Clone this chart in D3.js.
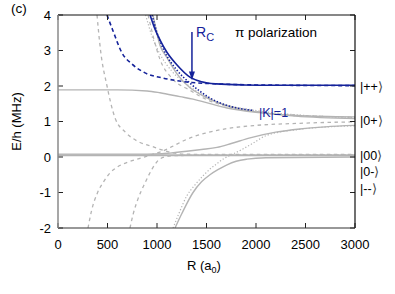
<!DOCTYPE html>
<html lang="en">
<head>
<meta charset="utf-8">
<title>pi polarization</title>
<script src="https://d3js.org/d3.v7.min.js"></script>
<style>
  body { margin: 0; background: #fff; }
  text { font-family: "Liberation Sans", Arial, sans-serif; }
</style>
</head>
<body>
<svg id="chart" width="395" height="294"></svg>
<script>
// ---- data, each curve as [R, E] pairs ----
var xTicks = [0, 500, 1000, 1500, 2000, 2500, 3000];
var yTicks = [-2, -1, 0, 1, 2, 3, 4];

// dark blue curves
var blueSolid  = [[930,4.0],[980,3.6],[1030,3.3],[1100,2.95],[1200,2.6],[1333,2.25],[1450,2.12],[1600,2.06],[1870,2.03],[2200,2.02],[3000,2.02]];
var blueDashed = [[495,4.0],[556,3.55],[647,2.93],[747,2.62],[879,2.37],[1050,2.23],[1200,2.15],[1350,2.1],[1600,2.06],[2000,2.03],[3000,2.01]];
var blueDotted = [[950,4.0],[1000,3.5],[1080,2.95],[1200,2.45],[1333,2.08],[1435,1.85],[1535,1.66],[1700,1.46],[1808,1.38],[1980,1.31]];

// gray curves
var graySolidTop   = [[960,4.0],[1030,3.15],[1100,2.8],[1200,2.35],[1333,1.95],[1434,1.77],[1535,1.62],[1700,1.45],[2000,1.27],[2400,1.15],[3000,1.08]];
var grayDottedTop  = [[885,4.0],[950,3.4],[1030,2.9],[1150,2.42],[1300,2.05],[1434,1.8],[1600,1.56],[2000,1.31],[2400,1.19],[3000,1.11]];
var grayDashedTop  = [[910,4.0],[1030,2.75],[1150,2.22],[1333,1.88],[1500,1.62],[1700,1.43],[2000,1.28],[2400,1.18],[3000,1.12]];
var graySolidFlat2 = [[0,1.89],[600,1.89],[900,1.86],[1030,1.81],[1232,1.7],[1364,1.63],[1500,1.53],[1707,1.38],[2040,1.25],[2400,1.17],[3000,1.13]];
var graySolidFlat0 = [[0,0.08],[900,0.08],[1050,0.09],[1131,0.11],[1300,0.16],[1450,0.21],[1606,0.27],[1750,0.38],[1940,0.54],[2200,0.7],[2444,0.79],[2700,0.85],[3000,0.89]];
var graySolidZero  = [[0,0.05],[1000,0.05],[2000,0.05],[3000,0.05]];
var graySolidLow   = [[1182,-2],[1250,-1.6],[1364,-1.0],[1450,-0.7],[1535,-0.5],[1620,-0.35],[1707,-0.22],[1800,-0.12],[1909,-0.06],[2100,-0.02],[3000,0.0]];
var grayDottedLow  = [[1162,-2],[1220,-1.6],[1300,-1.1],[1380,-0.8],[1465,-0.53],[1535,-0.34],[1600,-0.2],[1666,-0.06],[1750,0.06],[1850,0.2],[1970,0.39],[2100,0.6],[2444,0.78],[3000,0.88]];
var grayDashedA    = [[394,4.0],[430,3.0],[495,2.0],[576,1.1],[680,0.7],[800,0.45],[950,0.3],[1050,0.2],[1150,0.12],[1300,0.08],[1600,0.07],[3000,0.07]];
var grayDashedB    = [[303,-2],[340,-1.5],[400,-1.0],[460,-0.7],[525,-0.45],[600,-0.28],[700,-0.15],[850,-0.02],[950,0.07],[1050,0.16],[1150,0.29],[1263,0.45],[1364,0.57],[1500,0.68],[1707,0.8],[2000,0.89],[2444,0.95],[3000,0.99]];
var grayDashedC    = [[727,-2],[760,-1.6],[808,-1.18],[879,-0.73],[950,-0.34],[1010,-0.1],[1080,0.0],[1200,0.04],[1500,0.05],[3000,0.06]];

var stateLabels = ["++", "0+", "00", "0-", "--"];
var stateLabelY = [91, 125, 160, 176, 193];

// ---- layout ----
var svg = d3.select("#chart");
var mLeft = 58, mRight = 355, mTop = 15, mBottom = 228;

var x = d3.scaleLinear().domain([0, 3000]).range([mLeft, mRight]);
var y = d3.scaleLinear().domain([-2, 4]).range([mBottom, mTop]);

var gray = "#b4b4b4", blue = "#14229a";

svg.append("clipPath").attr("id", "clip")
  .append("rect").attr("x", mLeft).attr("y", mTop)
  .attr("width", mRight - mLeft).attr("height", mBottom - mTop);

var line = d3.line()
  .x(function (d) { return x(d[0]); })
  .y(function (d) { return y(d[1]); })
  .curve(d3.curveMonotoneX);

var plot = svg.append("g").attr("clip-path", "url(#clip)");

function draw(data, color, width, dash) {
  plot.append("path")
    .datum(data)
    .attr("d", line)
    .attr("fill", "none")
    .attr("stroke", color)
    .attr("stroke-width", width)
    .attr("stroke-dasharray", dash);
}

// gray first, blue on top
draw(graySolidZero, gray, 1.8, null);
draw(graySolidFlat0, gray, 1.4, null);
draw(graySolidFlat2, gray, 1.4, null);
draw(graySolidLow, gray, 1.4, null);
draw(grayDottedLow, gray, 1.2, "1.2,2");
draw(grayDashedA, gray, 1.3, "3.5,3.5");
draw(grayDashedB, gray, 1.3, "3.5,3.5");
draw(grayDashedC, gray, 1.3, "3.5,3.5");
draw(grayDashedTop, gray, 1.2, "3.5,3.5");
draw(grayDottedTop, gray, 1.2, "1.2,2");
draw(graySolidTop, gray, 1.4, null);

draw(blueDashed, blue, 1.6, "4,3");
draw(blueDotted, blue, 1.6, "1.4,1.8");
draw(blueSolid, blue, 1.6, null);

// ---- frame and ticks ----
var tl = 5;
var axes = svg.append("g");
xTicks.forEach(function (t) {
  axes.append("line").attr("x1", x(t)).attr("x2", x(t)).attr("y1", mBottom).attr("y2", mBottom - tl)
    .attr("stroke", "#222").attr("stroke-width", 1);
  axes.append("line").attr("x1", x(t)).attr("x2", x(t)).attr("y1", mTop).attr("y2", mTop + tl)
    .attr("stroke", "#222").attr("stroke-width", 1);
  axes.append("text").attr("x", x(t)).attr("y", 249)
    .attr("text-anchor", "middle").attr("font-size", 13).text(t);
});
yTicks.forEach(function (t) {
  axes.append("line").attr("x1", mLeft).attr("x2", mLeft + tl).attr("y1", y(t)).attr("y2", y(t))
    .attr("stroke", "#222").attr("stroke-width", 1);
  axes.append("line").attr("x1", mRight).attr("x2", mRight - tl).attr("y1", y(t)).attr("y2", y(t))
    .attr("stroke", "#222").attr("stroke-width", 1);
  axes.append("text").attr("x", 51).attr("y", y(t) + 4.5)
    .attr("text-anchor", "end").attr("font-size", 13).text(t);
});
axes.append("line").attr("x1", mLeft).attr("x2", mRight).attr("y1", mTop).attr("y2", mTop)
  .attr("stroke", "#111").attr("stroke-width", 1.2);
axes.append("line").attr("x1", mRight).attr("x2", mRight).attr("y1", mTop).attr("y2", mBottom)
  .attr("stroke", "#111").attr("stroke-width", 1.2);
axes.append("line").attr("x1", mLeft).attr("x2", mRight).attr("y1", mBottom).attr("y2", mBottom)
  .attr("stroke", "#333").attr("stroke-width", 1.2);
axes.append("line").attr("x1", mLeft).attr("x2", mLeft).attr("y1", mTop).attr("y2", mBottom)
  .attr("stroke", "#8a8a8a").attr("stroke-width", 1.5);

// ---- labels ----
svg.append("text").attr("x", 11).attr("y", 13).attr("font-size", 13.5).text("(c)");

var xl = svg.append("text").attr("x", 187).attr("y", 270).attr("font-size", 13);
xl.append("tspan").text("R (a");
xl.append("tspan").attr("font-size", 9).attr("dy", 3).text("0");
xl.append("tspan").attr("dy", -3).text(")");

svg.append("text")
  .attr("transform", "translate(21," + ((mTop + mBottom) / 2) + ") rotate(-90)")
  .attr("text-anchor", "middle").attr("font-size", 13).text("E/h (MHz)");

svg.append("text").attr("x", 235).attr("y", 37).attr("font-size", 13.5)
  .text("\u03C0 polarization");

// R_C arrow
var arrowR = 1353;
svg.append("line")
  .attr("x1", x(arrowR)).attr("x2", x(arrowR))
  .attr("y1", 32).attr("y2", y(2.35))
  .attr("stroke", blue).attr("stroke-width", 1.5);
svg.append("path")
  .attr("d", "M" + (x(arrowR) - 3) + "," + (y(2.35) - 2) + " L" + (x(arrowR) + 3) + "," + (y(2.35) - 2) +
             " L" + x(arrowR) + "," + (y(2.2) + 1) + " Z")
  .attr("fill", blue);
var rc = svg.append("text").attr("x", 196).attr("y", 37).attr("font-size", 14).attr("fill", blue);
rc.append("tspan").text("R");
rc.append("tspan").attr("font-size", 11).attr("dy", 4).text("C");

svg.append("text").attr("x", 259).attr("y", 117).attr("font-size", 12.5).attr("fill", blue).text("|K|=1");

stateLabels.forEach(function (s, i) {
  var t = svg.append("text").attr("x", 360).attr("y", stateLabelY[i]).attr("font-size", 12.5);
  t.append("tspan").text("|" + s);
  t.append("tspan").attr("font-family", "DejaVu Sans").attr("font-weight", 200)
    .attr("fill", "#444").text("\u27E9");
});
</script>
</body>
</html>
